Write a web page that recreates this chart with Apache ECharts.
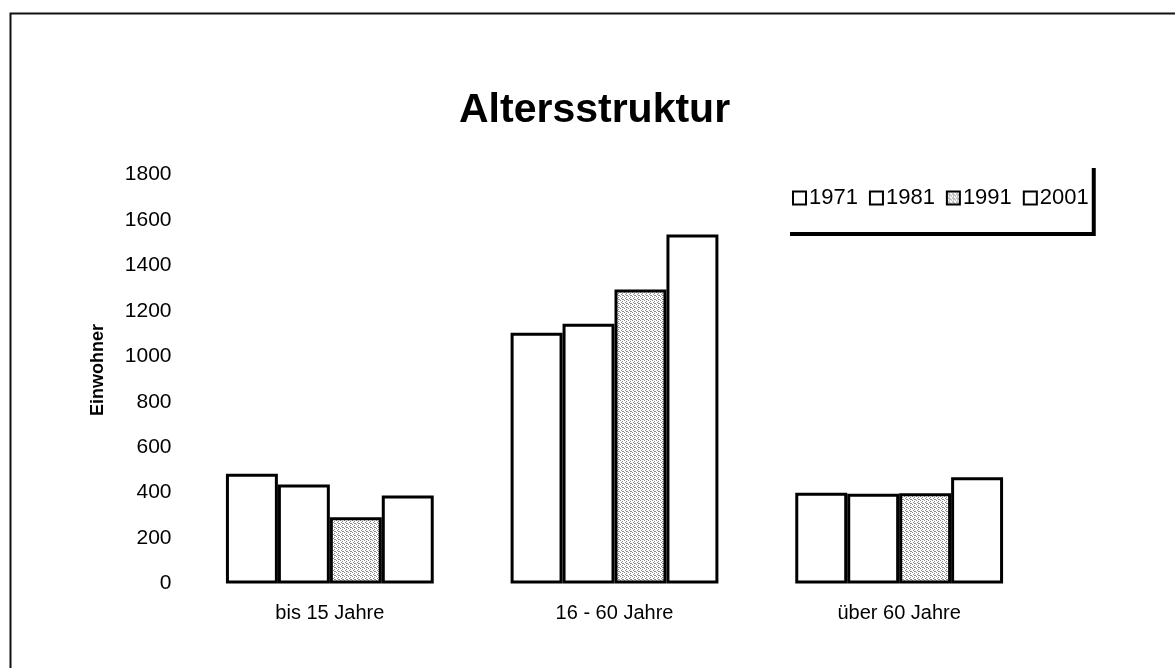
<!DOCTYPE html>
<html>
<head>
<meta charset="utf-8">
<script src="https://cdn.jsdelivr.net/npm/echarts@6/dist/echarts.min.js"></script>
<style>
html,body{margin:0;padding:0;background:#fff;}
#chart{width:1175px;height:668px;}
</style>
</head>
<body>
<div id="chart"></div>
<script>
var categories = ['bis 15 Jahre', '16 - 60 Jahre', 'über 60 Jahre'];
var years = ['1971', '1981', '1991', '2001'];
var v1971 = [483, 1103, 399];
var v1981 = [436, 1143, 395];
var v1991 = [292, 1294, 397];
var v2001 = [387, 1536, 468];
var yTicks = [0, 200, 400, 600, 800, 1000, 1200, 1400, 1600, 1800];

// stippled grey texture for 1991
var pc = document.createElement('canvas');
pc.width = 4; pc.height = 4;
var pctx = pc.getContext('2d');
pctx.fillStyle = '#ffffff'; pctx.fillRect(0,0,4,4);
pctx.fillStyle = '#8a8a8a';
[[0,0],[2,1],[1,2],[3,3],[2,3]].forEach(function(p){ pctx.fillRect(p[0],p[1],1,1); });
var stipple = {image: pc, repeat: 'repeat'};

var seriesData = [v1971, v1981, v1991, v2001];
var fills = ['#ffffff', '#ffffff', stipple, '#ffffff'];

var chart = echarts.init(document.getElementById('chart'), null, {renderer: 'canvas'});
var font = 'Liberation Sans, Arial, sans-serif';
chart.setOption({
  backgroundColor: '#ffffff',
  animation: false,
  title: {
    text: 'Altersstruktur',
    left: 454,
    top: 85,
    textStyle: {fontFamily: font, fontSize: 41, fontWeight: 'bold', color: '#000'}
  },
  legend: {
    data: years,
    left: 786,
    top: 164,
    orient: 'horizontal',
    itemWidth: 13,
    itemHeight: 13,
    itemGap: 11,
    padding: [23, 3, 23, 6],
    backgroundColor: '#ffffff',
    shadowColor: '#000',
    shadowBlur: 0,
    shadowOffsetX: 4,
    shadowOffsetY: 4,
    icon: 'rect',
    textStyle: {fontFamily: font, fontSize: 22, color: '#000', padding: [0,0,0,-2]}
  },
  grid: {left: 187.5, right: 133.5, top: 174.5, bottom: 84.5, containLabel: false},
  xAxis: {
    type: 'category',
    data: categories,
    axisLine: {show: false},
    axisTick: {show: false},
    axisLabel: {fontFamily: font, fontSize: 20, color: '#000', margin: 20}
  },
  yAxis: {
    type: 'value',
    min: yTicks[0],
    max: yTicks[yTicks.length - 1],
    interval: 200,
    name: 'Einwohner',
    nameLocation: 'middle',
    nameGap: 80,
    nameRotate: 90,
    nameTextStyle: {fontFamily: font, fontSize: 18, fontWeight: 'bold', color: '#000', padding: [0, 0, 0, 18]},
    axisLine: {show: false},
    axisTick: {show: false},
    splitLine: {show: false},
    axisLabel: {fontFamily: font, fontSize: 21, color: '#000', margin: 16,
      formatter: function (v) { return String(v); }}
  },
  series: years.map(function (y, i) {
    return {
      name: y,
      type: 'bar',
      data: seriesData[i],
      barGap: '0%',
      barCategoryGap: '27%',
      itemStyle: {color: fills[i], borderColor: '#000', borderWidth: 3}
    };
  }),
  graphic: [{
    type: 'rect',
    shape: {x: 10.5, y: 13.5, width: 1300, height: 800},
    style: {fill: 'none', stroke: '#111', lineWidth: 2},
    silent: true
  }]
});
</script>
</body>
</html>
